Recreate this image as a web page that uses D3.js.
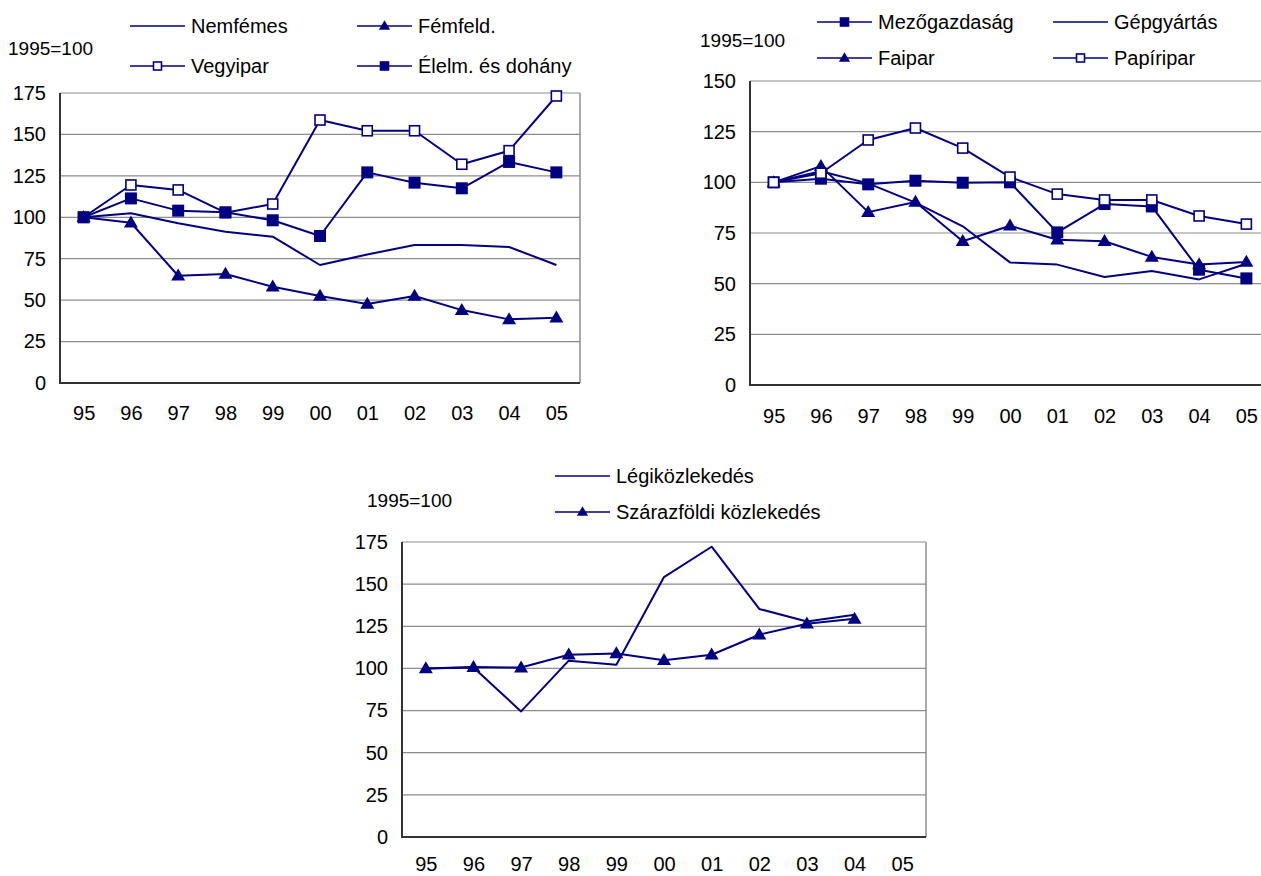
<!DOCTYPE html>
<html>
<head>
<meta charset="utf-8">
<script src="https://cdn.jsdelivr.net/npm/d3@7"></script>
<style>
  body { margin: 0; background: #fff; }
  text { font-family: "Liberation Sans", Arial, sans-serif; font-size: 20px; fill: #000; }
</style>
</head>
<body>
<script>
// categories (years, 1995 = 100)
const years = ["95", "96", "97", "98", "99", "00", "01", "02", "03", "04", "05"];
const yTicks175 = [0, 25, 50, 75, 100, 125, 150, 175];
const yTicks150 = [0, 25, 50, 75, 100, 125, 150];

// chart 1
const nemfemes = [100, 102.4, 96.4, 91.3, 88.3, 71.2, 77.6, 83.3, 83.3, 82.1, 71.2];
const femfeld  = [100, 96.7, 64.7, 65.8, 58.1, 52.5, 47.7, 52.5, 44, 38.4, 39.4];
const vegyipar = [100, 119.5, 116.5, 102.8, 108, 158.7, 152.2, 152.2, 132, 140.2, 173.2];
const elelm    = [100, 111.4, 104, 103, 98.2, 88.7, 127.1, 120.9, 117.5, 133.4, 127.1];

// chart 2
const mezogazdasag = [100, 101.8, 99, 100.8, 99.8, 100, 75.3, 89.3, 88.1, 56.9, 52.6];
const gepgyartas   = [100, 105.5, 99.5, 90, 78.3, 60.5, 59.4, 53.3, 56.2, 52.1, 59.8];
const faipar       = [100, 108, 85.3, 90.3, 70.9, 78.6, 71.7, 70.9, 63.2, 59.5, 60.7];
const papiripar    = [100, 104.5, 120.9, 126.8, 116.9, 102.6, 94.2, 91.3, 91.3, 83.4, 79.4];

// chart 3
const legi   = [100, 100.5, 74.5, 104.6, 102.2, 154.2, 172.2, 135.3, 127.8, 131.8, null];
const szaraz = [100, 100.8, 100.5, 108.1, 108.9, 104.9, 108.1, 120, 126.5, 129.4, null];

const navy = "#000080";
const font = '"Liberation Sans", Arial, sans-serif';

const svg = d3.select("body").append("svg")
    .attr("width", 1261)
    .attr("height", 876);

function drawMarker(g, type, x, y, big) {
    const s = big ? 1 : 0.8;
    if (type === "tri") {
        const w = 14 * s, h = 12 * s;
        g.append("path")
            .attr("d", `M${x},${y - h * 0.6}L${x + w / 2},${y + h * 0.4}L${x - w / 2},${y + h * 0.4}Z`)
            .attr("fill", navy);
    } else if (type === "sq") {
        const w = 12 * s;
        g.append("rect").attr("x", x - w / 2).attr("y", y - w / 2)
            .attr("width", w).attr("height", w).attr("fill", navy);
    } else if (type === "osq") {
        const w = 10 * s;
        g.append("rect").attr("x", x - w / 2).attr("y", y - w / 2)
            .attr("width", w).attr("height", w)
            .attr("fill", "#fff").attr("stroke", navy).attr("stroke-width", 1.6);
    }
}

function drawChart(cfg) {
    const g = svg.append("g");
    const x = d3.scalePoint().domain(years).range([cfg.left, cfg.right]).padding(0.5);
    const y = d3.scaleLinear().domain([0, cfg.max]).range([cfg.bottom, cfg.top]);

    // gridlines
    g.selectAll(".grid").data(cfg.ticks.filter(t => t > 0))
        .enter().append("line")
        .attr("x1", cfg.left).attr("x2", cfg.right)
        .attr("y1", d => y(d)).attr("y2", d => y(d))
        .attr("stroke", "#8c8c8c").attr("stroke-width", 1.2);

    // plot border: gray top/right, dark axes left/bottom
    g.append("line").attr("x1", cfg.right).attr("x2", cfg.right)
        .attr("y1", cfg.top).attr("y2", cfg.bottom)
        .attr("stroke", "#8c8c8c").attr("stroke-width", 1.5);
    g.append("line").attr("x1", cfg.left).attr("x2", cfg.left)
        .attr("y1", cfg.top).attr("y2", cfg.bottom)
        .attr("stroke", "#333").attr("stroke-width", 2);
    g.append("line").attr("x1", cfg.left - 1).attr("x2", cfg.right)
        .attr("y1", cfg.bottom).attr("y2", cfg.bottom)
        .attr("stroke", "#333").attr("stroke-width", 2);

    // y axis labels
    const ya = g.append("g").attr("transform", `translate(${cfg.left},0)`)
        .call(d3.axisLeft(y).tickValues(cfg.ticks).tickSize(0).tickPadding(14));
    ya.select(".domain").remove();
    ya.selectAll("text").style("font-size", "20px")
        .style("font-family", font).attr("fill", "#000");

    // x axis labels
    const xa = g.append("g").attr("transform", `translate(0,${cfg.bottom + cfg.xLabelGap})`)
        .call(d3.axisBottom(x).tickSize(0).tickPadding(0));
    xa.select(".domain").remove();
    xa.selectAll("text").attr("dy", "0.35em").style("font-size", "20px")
        .style("font-family", font).attr("fill", "#000");

    // unit label
    g.append("text").attr("x", cfg.unit[0]).attr("y", cfg.unit[1])
        .attr("dy", "0.35em").style("font-size", "19px").text("1995=100");

    const line = d3.line()
        .defined(d => d != null)
        .x((d, i) => x(years[i]))
        .y(d => y(d));

    cfg.series.forEach(s => {
        g.append("path").datum(s.values)
            .attr("fill", "none").attr("stroke", navy)
            .attr("stroke-width", 2).attr("stroke-linejoin", "round")
            .attr("d", line);
    });
    cfg.series.forEach(s => {
        s.values.forEach((v, i) => {
            if (v != null) drawMarker(g, s.marker, x(years[i]), y(v), true);
        });
    });

    // legend
    cfg.series.forEach(s => {
        const [lx, ly] = s.legend;
        g.append("line").attr("x1", lx).attr("x2", lx + 55)
            .attr("y1", ly).attr("y2", ly)
            .attr("stroke", navy).attr("stroke-width", 1.5);
        drawMarker(g, s.marker, lx + 27.5, ly, false);
        g.append("text").attr("x", lx + 61).attr("y", ly).attr("dy", "0.35em").text(s.name);
    });
}

drawChart({
    left: 60, right: 580, top: 93, bottom: 383, max: 175, ticks: yTicks175,
    xLabelGap: 30, unit: [8, 48],
    series: [
        {name: "Nemfémes", values: nemfemes, marker: "none", legend: [130, 26]},
        {name: "Fémfeld.", values: femfeld, marker: "tri", legend: [357, 26]},
        {name: "Vegyipar", values: vegyipar, marker: "osq", legend: [130, 66]},
        {name: "Élelm. és dohány", values: elelm, marker: "sq", legend: [357, 66]}
    ]
});

drawChart({
    left: 750, right: 1270, top: 81, bottom: 385, max: 150, ticks: yTicks150,
    xLabelGap: 31, unit: [700, 40],
    series: [
        {name: "Mezőgazdaság", values: mezogazdasag, marker: "sq", legend: [817, 22]},
        {name: "Gépgyártás", values: gepgyartas, marker: "none", legend: [1053, 22]},
        {name: "Faipar", values: faipar, marker: "tri", legend: [817, 58]},
        {name: "Papíripar", values: papiripar, marker: "osq", legend: [1053, 58]}
    ]
});

drawChart({
    left: 402, right: 926, top: 542, bottom: 837, max: 175, ticks: yTicks175,
    xLabelGap: 27, unit: [367, 500],
    series: [
        {name: "Légiközlekedés", values: legi, marker: "none", legend: [555, 476]},
        {name: "Szárazföldi közlekedés", values: szaraz, marker: "tri", legend: [555, 512]}
    ]
});
</script>
</body>
</html>
